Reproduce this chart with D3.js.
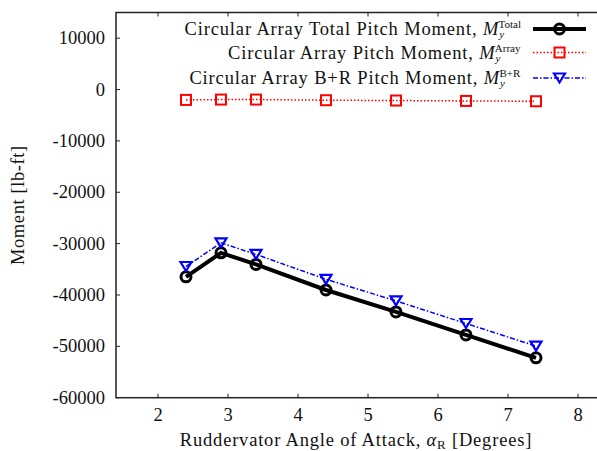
<!DOCTYPE html>
<html>
<head>
<meta charset="utf-8">
<script src="https://cdn.jsdelivr.net/npm/d3@7"></script>
<style>
  body { margin: 0; background: #fff; }
  text { font-family: "Liberation Serif", "DejaVu Serif", serif; fill: #111; }
</style>
</head>
<body>
<div id="chart"></div>
<script>
// ruddervator angle of attack [deg]
const alpha = [2.4, 2.9, 3.4, 4.4, 5.4, 6.4, 7.4];
// pitch moments [lb-ft]
const totalMoment = [-36470, -31800, -34050, -39030, -43290, -47770, -52230];
const arrayMoment = [-2020, -1950, -1950, -2080, -2140, -2220, -2280];
const brMoment = [-34450, -29850, -32100, -36950, -41150, -45550, -49950];

const xTicks = [2, 3, 4, 5, 6, 7, 8];
const yTicks = [10000, 0, -10000, -20000, -30000, -40000, -50000, -60000];

const W = 597, H = 451;
const plotLeft = 116, plotTop = 12.5, plotBottom = 397.7;

const x = d3.scaleLinear().domain([1.4, 8.4]).range([plotLeft, plotLeft + 490]);
const y = d3.scaleLinear().domain([-60000, 15000]).range([plotBottom, plotTop]);

const svg = d3.select('#chart').append('svg')
  .attr('width', W)
  .attr('height', H);

const fs = 18.5;

// ticks (inward, mirrored on top)
const tk = 4;
svg.append('g').selectAll('line')
  .data(xTicks).enter().append('line')
  .attr('x1', d => x(d)).attr('x2', d => x(d))
  .attr('y1', plotBottom).attr('y2', plotBottom - tk)
  .attr('stroke', '#222').attr('stroke-width', 1);
svg.append('g').selectAll('line')
  .data(xTicks).enter().append('line')
  .attr('x1', d => x(d)).attr('x2', d => x(d))
  .attr('y1', plotTop).attr('y2', plotTop + tk)
  .attr('stroke', '#222').attr('stroke-width', 1);
svg.append('g').selectAll('line')
  .data(yTicks).enter().append('line')
  .attr('x1', plotLeft).attr('x2', plotLeft + tk)
  .attr('y1', d => y(d)).attr('y2', d => y(d))
  .attr('stroke', '#222').attr('stroke-width', 1);

// tick labels
svg.append('g').selectAll('text')
  .data(xTicks).enter().append('text')
  .attr('x', d => x(d)).attr('y', 421)
  .attr('text-anchor', 'middle')
  .attr('font-size', fs)
  .text(d => d);
svg.append('g').selectAll('text')
  .data(yTicks).enter().append('text')
  .attr('x', 105).attr('y', d => y(d) + 6)
  .attr('text-anchor', 'end')
  .attr('font-size', fs)
  .text(d => d);

// frame
svg.append('rect')
  .attr('x', plotLeft).attr('y', plotTop)
  .attr('width', x.range()[1] - plotLeft).attr('height', plotBottom - plotTop)
  .attr('fill', 'none').attr('stroke', '#222').attr('stroke-width', 1.5);

// axis titles
svg.append('text')
  .attr('transform', `translate(24,${(plotTop + plotBottom) / 2}) rotate(-90)`)
  .attr('text-anchor', 'middle')
  .attr('font-size', fs)
  .attr('letter-spacing', 0.6)
  .text('Moment [lb-ft]');

const xl = svg.append('text')
  .attr('x', 356).attr('y', 446)
  .attr('text-anchor', 'middle')
  .attr('font-size', fs)
  .attr('letter-spacing', 0.8);
xl.append('tspan').text('Ruddervator Angle of Attack, ');
xl.append('tspan').attr('font-style', 'italic').text('α');
xl.append('tspan').attr('font-size', 13).attr('dy', 3).text('R');
xl.append('tspan').attr('dy', -3).text(' [Degrees]');

// series
const series = [
  { name: 'Circular Array Total Pitch Moment, ', sup: 'Total', vals: totalMoment,
    color: '#000', width: 4, dash: null, marker: 'circle' },
  { name: 'Circular Array Pitch Moment, ', sup: 'Array', vals: arrayMoment,
    color: '#ff0000', width: 1.5, dash: '1.5,2', marker: 'square' },
  { name: 'Circular Array B+R Pitch Moment, ', sup: 'B+R', vals: brMoment,
    color: '#0000ff', width: 1.5, dash: '5,2,1.5,2', marker: 'triangle' }
];

const line = d3.line().x(d => x(d[0])).y(d => y(d[1]));

function drawMarker(g, kind, color, cx, cy) {
  if (kind === 'circle') {
    g.append('circle').attr('cx', cx).attr('cy', cy).attr('r', 5)
      .attr('fill', 'none').attr('stroke', color).attr('stroke-width', 3);
  } else if (kind === 'square') {
    g.append('rect').attr('x', cx - 5).attr('y', cy - 5).attr('width', 10).attr('height', 10)
      .attr('fill', 'none').attr('stroke', color).attr('stroke-width', 2);
  } else {
    g.append('path')
      .attr('d', `M${cx - 5.5},${cy - 4.5}L${cx + 5.5},${cy - 4.5}L${cx},${cy + 4.5}Z`)
      .attr('fill', 'none').attr('stroke', color).attr('stroke-width', 2.2);
  }
}

series.forEach(s => {
  const pts = alpha.map((a, i) => [a, s.vals[i]]);
  svg.append('path')
    .datum(pts)
    .attr('d', line)
    .attr('fill', 'none')
    .attr('stroke', s.color)
    .attr('stroke-width', s.width)
    .attr('stroke-dasharray', s.dash);
  const mg = svg.append('g');
  pts.forEach(p => drawMarker(mg, s.marker, s.color, x(p[0]), y(p[1])));
});

// legend: label, M with stacked sub/superscript, then line sample
const legY = [29, 52.5, 78];
series.forEach((s, i) => {
  const ly = legY[i];
  const g = svg.append('g');
  const t = g.append('text').attr('x', 0).attr('y', ly + 6).attr('font-size', fs)
    .attr('letter-spacing', 0.85);
  t.append('tspan').text(s.name);
  t.append('tspan').attr('font-style', 'italic').text('M');
  t.append('tspan').attr('font-style', 'italic').attr('font-size', 11)
    .attr('letter-spacing', 0).attr('dy', 3).text('y');
  t.append('tspan').attr('font-size', 11).attr('letter-spacing', 0)
    .attr('dy', -10).attr('dx', -5.5).text(s.sup);
  const bb = t.node().getBBox();
  g.attr('transform', `translate(${521 - (bb.x + bb.width)},0)`);

  svg.append('line')
    .attr('x1', 533).attr('x2', 586).attr('y1', ly).attr('y2', ly)
    .attr('stroke', s.color).attr('stroke-width', s.width)
    .attr('stroke-dasharray', s.dash);
  drawMarker(svg, s.marker, s.color, 559.5, ly);
});
</script>
</body>
</html>
